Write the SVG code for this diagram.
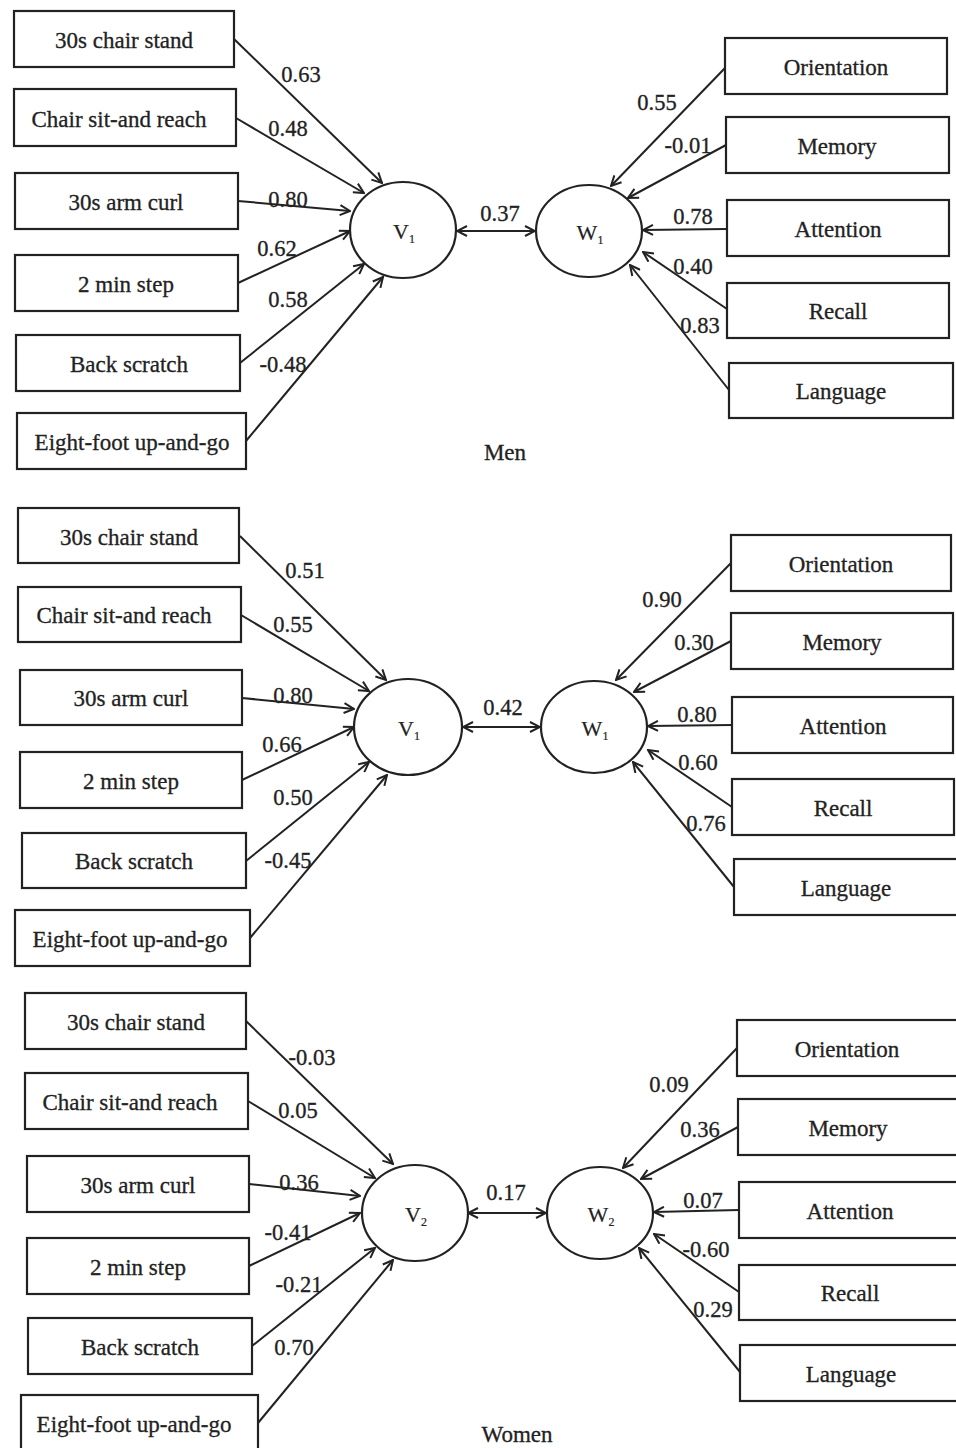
<svg xmlns="http://www.w3.org/2000/svg" width="956" height="1448" viewBox="0 0 956 1448">
<style>
.b{fill:#fff;stroke:#222;stroke-width:2.2}
.e{fill:#fff;stroke:#222;stroke-width:2.2}
.t{font-family:"Liberation Serif","Times New Roman",serif;font-size:23px;fill:#222;stroke:#222;stroke-width:0.3;text-anchor:middle}
.l{font-family:"Liberation Serif","Times New Roman",serif;font-size:22.5px;fill:#222;stroke:#222;stroke-width:0.3;text-anchor:middle}
.v{font-family:"Liberation Serif","Times New Roman",serif;font-size:22px;fill:#222;stroke:#222;stroke-width:0.2;text-anchor:middle}
.s{font-size:12px}
.c line{stroke:#222;stroke-width:2;fill:none}
.a{marker-end:url(#ah)}
.d{marker-end:url(#ah);marker-start:url(#ahs)}
</style>
<defs>
<marker id="ah" viewBox="0 0 12 12" refX="11" refY="6" markerWidth="12" markerHeight="12" markerUnits="userSpaceOnUse" orient="auto">
<path d="M1,1 L11,6 L1,11" fill="none" stroke="#222" stroke-width="2"/>
</marker>
<marker id="ahs" viewBox="0 0 12 12" refX="1" refY="6" markerWidth="12" markerHeight="12" markerUnits="userSpaceOnUse" orient="auto">
<path d="M11,1 L1,6 L11,11" fill="none" stroke="#222" stroke-width="2"/>
</marker>
</defs>
<rect width="956" height="1448" fill="#fff"/>

<g class="c" id="connectors">
<!-- Panel 1 -->
<line class="a" x1="234" y1="39" x2="382" y2="183"/>
<line class="a" x1="236" y1="118" x2="364" y2="193"/>
<line class="a" x1="238" y1="201" x2="350" y2="211"/>
<line class="a" x1="238" y1="283" x2="350" y2="231"/>
<line class="a" x1="240" y1="363" x2="364" y2="264"/>
<line class="a" x1="246" y1="441" x2="383" y2="277"/>
<line class="a" x1="725" y1="68" x2="611" y2="186"/>
<line class="a" x1="726" y1="145" x2="628" y2="198"/>
<line class="a" x1="727" y1="229" x2="643" y2="230"/>
<line class="a" x1="727" y1="309" x2="643" y2="252"/>
<line class="a" x1="729" y1="390" x2="630" y2="265"/>
<line class="d" x1="457" y1="231" x2="535" y2="231"/>
<!-- Panel 2 -->
<line class="a" x1="240" y1="536" x2="386" y2="680"/>
<line class="a" x1="241" y1="615" x2="369" y2="691"/>
<line class="a" x1="242" y1="698" x2="354" y2="709"/>
<line class="a" x1="242" y1="780" x2="354" y2="727"/>
<line class="a" x1="246" y1="861" x2="369" y2="762"/>
<line class="a" x1="250" y1="938" x2="387" y2="775"/>
<line class="a" x1="731" y1="563" x2="616" y2="680"/>
<line class="a" x1="731" y1="641" x2="634" y2="692"/>
<line class="a" x1="732" y1="725" x2="648" y2="726"/>
<line class="a" x1="732" y1="807" x2="648" y2="750"/>
<line class="a" x1="734" y1="887" x2="633" y2="762"/>
<line class="d" x1="463" y1="727" x2="540" y2="727"/>
<!-- Panel 3 -->
<line class="a" x1="246" y1="1021" x2="393" y2="1164"/>
<line class="a" x1="248" y1="1101" x2="375" y2="1178"/>
<line class="a" x1="249" y1="1184" x2="360" y2="1196"/>
<line class="a" x1="249" y1="1266" x2="360" y2="1213"/>
<line class="a" x1="252" y1="1346" x2="375" y2="1248"/>
<line class="a" x1="258" y1="1423" x2="393" y2="1260"/>
<line class="a" x1="737" y1="1048" x2="623" y2="1168"/>
<line class="a" x1="738" y1="1127" x2="641" y2="1179"/>
<line class="a" x1="739" y1="1210" x2="654" y2="1212"/>
<line class="a" x1="739" y1="1292" x2="654" y2="1234"/>
<line class="a" x1="740" y1="1372" x2="639" y2="1248"/>
<line class="d" x1="468" y1="1213" x2="546" y2="1213"/>
</g>

<g id="labels">
<text class="l" x="301" y="82">0.63</text>
<text class="l" x="288" y="136">0.48</text>
<text class="l" x="288" y="207">0.80</text>
<text class="l" x="277" y="256">0.62</text>
<text class="l" x="288" y="307">0.58</text>
<text class="l" x="283" y="372">-0.48</text>
<text class="l" x="657" y="110">0.55</text>
<text class="l" x="688" y="153">-0.01</text>
<text class="l" x="693" y="224">0.78</text>
<text class="l" x="693" y="274">0.40</text>
<text class="l" x="700" y="333">0.83</text>
<text class="l" x="500" y="221">0.37</text>
<text class="t" x="505" y="460">Men</text>

<text class="l" x="305" y="578">0.51</text>
<text class="l" x="293" y="632">0.55</text>
<text class="l" x="293" y="703">0.80</text>
<text class="l" x="282" y="752">0.66</text>
<text class="l" x="293" y="805">0.50</text>
<text class="l" x="288" y="868">-0.45</text>
<text class="l" x="662" y="607">0.90</text>
<text class="l" x="694" y="650">0.30</text>
<text class="l" x="697" y="722">0.80</text>
<text class="l" x="698" y="770">0.60</text>
<text class="l" x="706" y="831">0.76</text>
<text class="l" x="503" y="715">0.42</text>

<text class="l" x="312" y="1065">-0.03</text>
<text class="l" x="298" y="1118">0.05</text>
<text class="l" x="299" y="1190">0.36</text>
<text class="l" x="288" y="1240">-0.41</text>
<text class="l" x="299" y="1292">-0.21</text>
<text class="l" x="294" y="1355">0.70</text>
<text class="l" x="669" y="1092">0.09</text>
<text class="l" x="700" y="1137">0.36</text>
<text class="l" x="703" y="1208">0.07</text>
<text class="l" x="706" y="1257">-0.60</text>
<text class="l" x="713" y="1317">0.29</text>
<text class="l" x="506" y="1200">0.17</text>
<text class="t" x="517" y="1442">Women</text>
</g>

<!-- Panel 1 nodes -->
<g id="m_chairstand"><rect class="b" x="14" y="11" width="220" height="56"/><text class="t" x="124" y="48">30s chair stand</text></g>
<g id="m_sitreach"><rect class="b" x="14" y="89" width="222" height="57"/><text class="t" x="119" y="127">Chair sit-and reach</text></g>
<g id="m_armcurl"><rect class="b" x="15" y="173" width="223" height="56"/><text class="t" x="126" y="210">30s arm curl</text></g>
<g id="m_step"><rect class="b" x="15" y="255" width="223" height="56"/><text class="t" x="126" y="292">2 min step</text></g>
<g id="m_back"><rect class="b" x="16" y="335" width="224" height="56"/><text class="t" x="129" y="372">Back scratch</text></g>
<g id="m_eight"><rect class="b" x="17" y="413" width="229" height="56"/><text class="t" x="132" y="450">Eight-foot up-and-go</text></g>
<g id="m_V1"><ellipse class="e" cx="403" cy="230" rx="53" ry="48"/><text class="v" x="404" y="239">V<tspan class="s" dy="4">1</tspan></text></g>
<g id="m_W1"><ellipse class="e" cx="589" cy="231" rx="53" ry="46"/><text class="v" x="590" y="240">W<tspan class="s" dy="4">1</tspan></text></g>
<g id="m_orient"><rect class="b" x="725" y="38" width="222" height="56"/><text class="t" x="836" y="75">Orientation</text></g>
<g id="m_memory"><rect class="b" x="726" y="117" width="223" height="56"/><text class="t" x="837" y="154">Memory</text></g>
<g id="m_attention"><rect class="b" x="727" y="200" width="222" height="56"/><text class="t" x="838" y="237">Attention</text></g>
<g id="m_recall"><rect class="b" x="727" y="283" width="222" height="55"/><text class="t" x="838" y="319">Recall</text></g>
<g id="m_language"><rect class="b" x="729" y="363" width="224" height="55"/><text class="t" x="841" y="399">Language</text></g>

<!-- Panel 2 nodes -->
<g id="m2_chairstand"><rect class="b" x="18" y="508" width="221" height="55"/><text class="t" x="129" y="545">30s chair stand</text></g>
<g id="m2_sitreach"><rect class="b" x="18" y="587" width="223" height="55"/><text class="t" x="124" y="623">Chair sit-and reach</text></g>
<g id="m2_armcurl"><rect class="b" x="20" y="670" width="222" height="55"/><text class="t" x="131" y="706">30s arm curl</text></g>
<g id="m2_step"><rect class="b" x="20" y="752" width="222" height="56"/><text class="t" x="131" y="789">2 min step</text></g>
<g id="m2_back"><rect class="b" x="22" y="833" width="224" height="55"/><text class="t" x="134" y="869">Back scratch</text></g>
<g id="m2_eight"><rect class="b" x="15" y="910" width="235" height="56"/><text class="t" x="130" y="947">Eight-foot up-and-go</text></g>
<g id="m2_V1"><ellipse class="e" cx="408" cy="727" rx="54" ry="48"/><text class="v" x="409" y="736">V<tspan class="s" dy="4">1</tspan></text></g>
<g id="m2_W1"><ellipse class="e" cx="594" cy="727" rx="53" ry="46"/><text class="v" x="595" y="736">W<tspan class="s" dy="4">1</tspan></text></g>
<g id="m2_orient"><rect class="b" x="731" y="535" width="220" height="56"/><text class="t" x="841" y="572">Orientation</text></g>
<g id="m2_memory"><rect class="b" x="731" y="613" width="222" height="56"/><text class="t" x="842" y="650">Memory</text></g>
<g id="m2_attention"><rect class="b" x="732" y="697" width="221" height="56"/><text class="t" x="843" y="734">Attention</text></g>
<g id="m2_recall"><rect class="b" x="732" y="779" width="222" height="56"/><text class="t" x="843" y="816">Recall</text></g>
<g id="m2_language"><rect class="b" x="734" y="859" width="224" height="56"/><text class="t" x="846" y="896">Language</text></g>

<!-- Panel 3 nodes -->
<g id="w_chairstand"><rect class="b" x="25" y="993" width="221" height="56"/><text class="t" x="136" y="1030">30s chair stand</text></g>
<g id="w_sitreach"><rect class="b" x="25" y="1073" width="223" height="56"/><text class="t" x="130" y="1110">Chair sit-and reach</text></g>
<g id="w_armcurl"><rect class="b" x="27" y="1156" width="222" height="56"/><text class="t" x="138" y="1193">30s arm curl</text></g>
<g id="w_step"><rect class="b" x="27" y="1238" width="222" height="56"/><text class="t" x="138" y="1275">2 min step</text></g>
<g id="w_back"><rect class="b" x="28" y="1318" width="224" height="56"/><text class="t" x="140" y="1355">Back scratch</text></g>
<g id="w_eight"><rect class="b" x="21" y="1395" width="237" height="60"/><text class="t" x="134" y="1432">Eight-foot up-and-go</text></g>
<g id="w_V2"><ellipse class="e" cx="415" cy="1213" rx="53" ry="48"/><text class="v" x="416" y="1222">V<tspan class="s" dy="4">2</tspan></text></g>
<g id="w_W2"><ellipse class="e" cx="600" cy="1213" rx="53" ry="46"/><text class="v" x="601" y="1222">W<tspan class="s" dy="4">2</tspan></text></g>
<g id="w_orient"><rect class="b" x="737" y="1020" width="225" height="56"/><text class="t" x="847" y="1057">Orientation</text></g>
<g id="w_memory"><rect class="b" x="738" y="1099" width="224" height="56"/><text class="t" x="848" y="1136">Memory</text></g>
<g id="w_attention"><rect class="b" x="739" y="1182" width="223" height="56"/><text class="t" x="850" y="1219">Attention</text></g>
<g id="w_recall"><rect class="b" x="739" y="1265" width="223" height="55"/><text class="t" x="850" y="1301">Recall</text></g>
<g id="w_language"><rect class="b" x="740" y="1345" width="222" height="56"/><text class="t" x="851" y="1382">Language</text></g>
</svg>
